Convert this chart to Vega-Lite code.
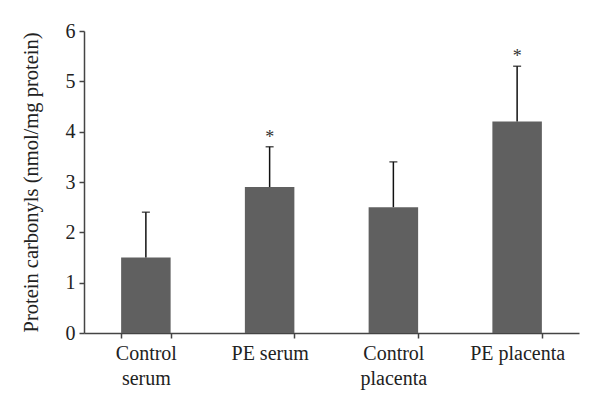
{
  "$schema": "https://vega.github.io/schema/vega-lite/v6.json",
  "autosize": "none",
  "width": 495,
  "height": 302,
  "padding": {"left": 84, "top": 31, "right": 21, "bottom": 72},
  "background": "white",
  "config": {
    "view": {"stroke": null},
    "font": "Liberation Serif",
    "axis": {"labelFont": "Liberation Serif", "titleFont": "Liberation Serif", "labelColor": "#222", "titleColor": "#222", "domainColor": "#444", "tickColor": "#444", "grid": false}
  },
  "data": {
    "values": [
      {"group": "Control serum", "mean": 1.5, "upper": 2.4, "sig": ""},
      {"group": "PE serum", "mean": 2.9, "upper": 3.7, "sig": "*"},
      {"group": "Control placenta", "mean": 2.5, "upper": 3.4, "sig": ""},
      {"group": "PE placenta", "mean": 4.2, "upper": 5.3, "sig": "*"}
    ]
  },
  "encoding": {
    "x": {
      "field": "group", "type": "nominal", "sort": null,
      "scale": {"paddingInner": 0.6, "paddingOuter": 0.3},
      "axis": {
        "title": null, "labelAngle": 0, "labelFontSize": 20, "labelLineHeight": 25,
        "labelPadding": 5, "tickBand": "extent", "tickSize": 5, "domainWidth": 1.5, "tickWidth": 1.5,
        "labelExpr": "indexof(datum.label,'Control')==0 ? split(datum.label,' ') : datum.label"
      }
    }
  },
  "layer": [
    {
      "mark": {"type": "bar", "color": "#606060"},
      "encoding": {
        "y": {
          "field": "mean", "type": "quantitative",
          "scale": {"domain": [0, 6], "nice": false},
          "axis": {"title": "Protein carbonyls (nmol/mg protein)", "titleFontSize": 20.5, "titleFontWeight": "normal", "titlePadding": 24, "labelFontSize": 20, "values": [0,1,2,3,4,5,6], "labelOverlap": false, "tickSize": 5, "labelPadding": 4, "domainWidth": 1.5, "tickWidth": 1.5}
        }
      }
    },
    {
      "mark": {"type": "rule", "color": "#111", "strokeWidth": 1.5},
      "encoding": {"y": {"field": "mean", "type": "quantitative"}, "y2": {"field": "upper"}}
    },
    {
      "mark": {"type": "tick", "color": "#111", "size": 8, "thickness": 1.5, "orient": "horizontal"},
      "encoding": {"y": {"field": "upper", "type": "quantitative"}}
    },
    {
      "mark": {"type": "text", "fontSize": 18, "dy": -9, "color": "#333"},
      "encoding": {"y": {"field": "upper", "type": "quantitative"}, "text": {"field": "sig"}}
    }
  ]
}
